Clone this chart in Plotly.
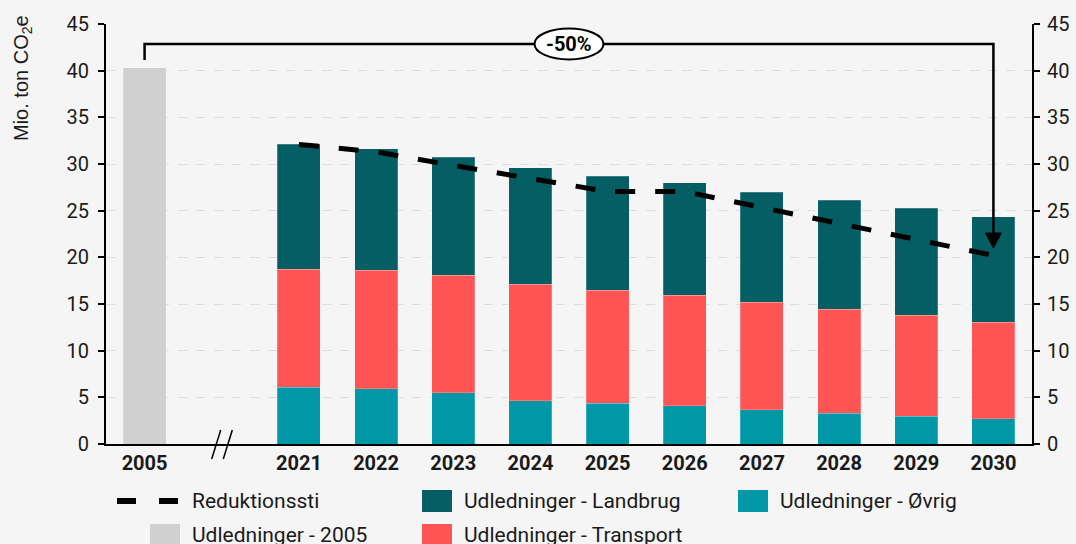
import plotly.graph_objects as go

# ---------------- data ----------------
categories = ["2005", " ", "2021", "2022", "2023", "2024", "2025", "2026", "2027", "2028", "2029", "2030"]
years = ["2021", "2022", "2023", "2024", "2025", "2026", "2027", "2028", "2029", "2030"]
base_year = ["2005"]
udl_2005 = [40.3]
udl_ovrig = [6.07, 5.93, 5.50, 4.64, 4.39, 4.10, 3.68, 3.29, 3.00, 2.71]
udl_transport = [12.63, 12.67, 12.60, 12.46, 12.11, 11.86, 11.52, 11.17, 10.80, 10.33]
udl_landbrug = [13.40, 13.05, 12.60, 12.50, 12.20, 12.04, 11.80, 11.64, 11.45, 11.32]
reduktionssti = [32.1, 31.3, 29.85, 28.5, 27.05, 27.05, 25.35, 23.6, 21.85, 20.2]
reduction_label = "-50%"
tick_labels = [c for c in categories if c.strip()]

# ---------------- style ----------------
BG = "#f5f5f5"
C_2005 = "#d0d0d0"
C_OVRIG = "#0098a6"
C_TRANSPORT = "#ff5454"
C_LANDBRUG = "#055e64"
FONT = "Roboto"
TXT = "#1a1a1a"
W, H = 1076, 544
ML, MR, MT, MB = 106, 44, 24, 100
PW, PH = W - ML - MR, H - MT - MB

def px(xp):
    return (xp - ML) / PW

def py(yp):
    return (MT + PH - yp) / PH

edge = dict(color="rgba(255,255,255,0.35)", width=0.6)

fig = go.Figure()
fig.add_bar(x=base_year, y=udl_2005, name="Udledninger - 2005", marker=dict(color=C_2005, line=edge))
fig.add_bar(x=years, y=udl_ovrig, name="Udledninger - Øvrig", marker=dict(color=C_OVRIG, line=edge))
fig.add_bar(x=years, y=udl_transport, name="Udledninger - Transport", marker=dict(color=C_TRANSPORT, line=edge))
fig.add_bar(x=years, y=udl_landbrug, name="Udledninger - Landbrug", marker=dict(color=C_LANDBRUG, line=edge))
# reduction path drawn on the (identical) right-hand axis so that axis is rendered
fig.add_scatter(x=years, y=reduktionssti, mode="lines", name="Reduktionssti", yaxis="y2",
                line=dict(color="black", width=5, dash="20px,20px"), hoverinfo="skip")

i0 = categories.index(base_year[0])
i1 = categories.index(years[-1])
imid = (i0 + i1) / 2
bracket_y = 42.86
start_y = udl_2005[0] + 0.85
tip_y = 21.0
head_h = 1.6
head_half = 8 / (PW / len(categories))

shapes = [
    dict(type="path", xref="x", yref="y",
         path=f"M {i0},{start_y} L {i0},{bracket_y} L {i1},{bracket_y} L {i1},{tip_y + head_h}",
         line=dict(color="black", width=2.5)),
    dict(type="path", xref="x", yref="y",
         path=f"M {i1 - head_half},{tip_y + head_h} L {i1 + head_half},{tip_y + head_h} L {i1},{tip_y} Z",
         fillcolor="black", line=dict(color="black", width=1)),
    dict(type="circle", xref="x", yref="y", xsizemode="pixel", ysizemode="pixel",
         xanchor=imid, yanchor=bracket_y, x0=-34.5, x1=34.5, y0=-15.5, y1=15.5,
         fillcolor="white", line=dict(color="black", width=2)),
    # axis break marks
    dict(type="line", xref="paper", yref="paper", x0=px(211.7), y0=py(459), x1=px(220.7), y1=py(430),
         line=dict(color="black", width=1.5)),
    dict(type="line", xref="paper", yref="paper", x0=px(223.3), y0=py(459), x1=px(232.3), y1=py(430),
         line=dict(color="black", width=1.5)),
]

annotations = [
    dict(x=imid, y=bracket_y, xref="x", yref="y", text=f"<b>{reduction_label}</b>", showarrow=False,
         font=dict(family=FONT, size=20, color="black")),
    dict(x=px(22), y=py(78), xref="paper", yref="paper", xanchor="center", yanchor="middle",
         text="Mio. ton CO<sub>2</sub>e", textangle=-90,
         showarrow=False, font=dict(family="Liberation Sans", size=20, color=TXT)),
]

# ---------------- custom legend ----------------
row1, row2 = 501, 535
legend_font = dict(family=FONT, size=21, color=TXT)
for a, b in [(117, 136), (159, 178)]:
    shapes.append(dict(type="line", xref="paper", yref="paper", x0=px(a), x1=px(b), y0=py(row1), y1=py(row1),
                       line=dict(color="black", width=6)))
swatches = [
    (150, row2, C_2005, 190, "Udledninger - 2005"),
    (422, row1, C_LANDBRUG, 462, "Udledninger - Landbrug"),
    (422, row2, C_TRANSPORT, 462, "Udledninger - Transport"),
    (738, row1, C_OVRIG, 778, "Udledninger - Øvrig"),
]
for sx, sy, col, tx, label in swatches:
    shapes.append(dict(type="rect", xref="paper", yref="paper", x0=px(sx), x1=px(sx + 30),
                       y0=py(sy - 11), y1=py(sy + 11), fillcolor=col, line=dict(width=0)))
    annotations.append(dict(x=px(tx), y=py(sy), xref="paper", yref="paper", text=label, showarrow=False,
                            xanchor="left", yanchor="middle", font=legend_font))
annotations.append(dict(x=px(190), y=py(row1), xref="paper", yref="paper", text="Reduktionssti",
                        showarrow=False, xanchor="left", yanchor="middle", font=legend_font))

yax = dict(range=[0, 45], dtick=5, tick0=0, ticks="outside", ticklen=6, tickwidth=2, tickcolor="black",
           showline=True, linecolor="black", linewidth=2, zeroline=False, automargin=False,
           tickfont=dict(family=FONT, size=20, color=TXT))

fig.update_layout(
    width=W, height=H, margin=dict(l=ML, r=MR, t=MT, b=MB, autoexpand=False),
    paper_bgcolor=BG, plot_bgcolor=BG,
    barmode="stack", bargap=0.443, showlegend=False,
    xaxis=dict(type="category", categoryorder="array", categoryarray=categories, range=[-0.5, 11.5],
               tickmode="array", tickvals=tick_labels, ticktext=tick_labels, automargin=False,
               showline=True, linecolor="black", linewidth=2, ticks="", showgrid=False,
               tickfont=dict(family=FONT, size=20, color=TXT, weight="bold")),
    yaxis=dict(**yax, showgrid=True, gridcolor="#dddddd", griddash="dash", gridwidth=1, ticklabelstandoff=5),
    yaxis2=dict(**yax, overlaying="y", side="right", showgrid=False, ticklabelstandoff=3),
    shapes=shapes, annotations=annotations,
)

fig.write_html("out.html", config={"displayModeBar": False},
               post_script="document.body.style.margin='0px';document.body.style.background='#f5f5f5';")
